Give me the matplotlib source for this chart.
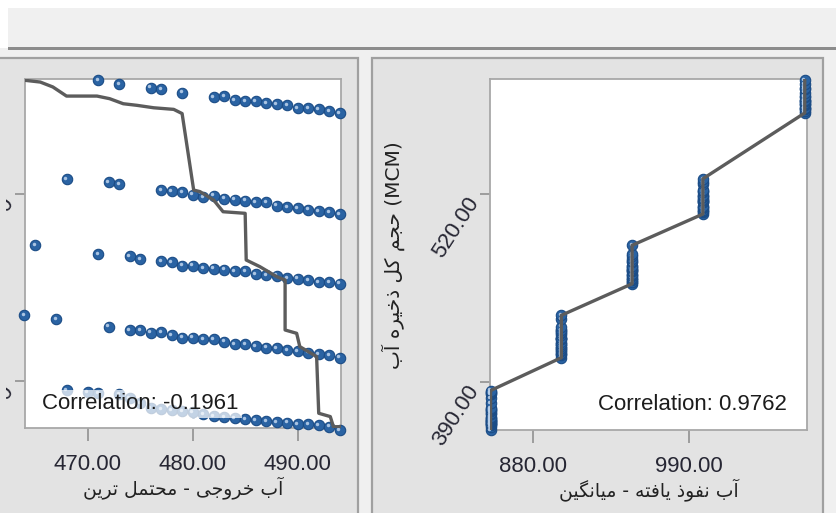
import re
import numpy as np
import matplotlib
matplotlib.use("Agg")
import matplotlib.pyplot as plt
from matplotlib.patches import Rectangle
from matplotlib.transforms import ScaledTranslation

# ---------------- data ----------------
# infiltration (mean) value for each scenario group
infiltration = [1072, 1000, 950, 900, 850]

# outflow (most likely) per group
outflow_g1 = [471, 473, 476, 477, 479, 482, 483, 484, 485, 486, 487, 488, 489, 490, 491, 492, 493, 494]
outflow_g2 = [468, 472, 473, 477, 478, 479, 480, 481, 482, 483, 484, 485, 486, 487, 488, 489, 490, 491, 492, 493, 494]
outflow_g3 = [465, 471, 474, 475, 477, 478, 479, 480, 481, 482, 483, 484, 485, 486, 487, 488, 489, 490, 491, 492, 493, 494]
outflow_g4 = [464, 467, 472, 474, 475, 476, 477, 478, 479, 480, 481, 482, 483, 484, 485, 486, 487, 488, 489, 490, 491, 492, 493, 494]
outflow_g5 = [468, 470, 471, 473, 474, 475, 476, 477, 478, 479, 480, 481, 482, 483, 484, 485, 486, 487, 488, 489, 490, 491, 492, 493, 494]

# total water storage (MCM) per group
storage_g1 = [598.3, 595.9, 593.2, 592.1, 589.7, 586.7, 587.2, 584.5, 583.8, 583.8, 582.6, 581.7, 581.0, 579.3, 579.1, 578.2, 577.1, 575.7]
storage_g2 = [530.2, 527.8, 526.6, 522.6, 521.5, 521.1, 519.2, 517.4, 518.5, 516.4, 515.7, 515.0, 514.1, 513.9, 511.6, 510.5, 510.0, 508.8, 507.7, 507.2, 505.8]
storage_g3 = [484.2, 478.2, 476.6, 474.7, 473.1, 472.4, 470.1, 470.1, 468.5, 468.0, 467.3, 466.2, 466.2, 464.3, 463.4, 463.2, 461.6, 461.1, 460.0, 458.6, 458.6, 457.6]
storage_g4 = [435.8, 433.0, 427.9, 425.4, 425.4, 423.7, 424.2, 422.2, 420.3, 420.3, 419.2, 419.2, 417.5, 415.7, 415.7, 414.6, 413.4, 413.0, 411.6, 411.1, 409.9, 408.8, 408.1, 406.5]
storage_g5 = [383.8, 382.7, 382.0, 381.3, 378.6, 375.2, 371.7, 371.0, 370.3, 369.3, 368.6, 367.5, 365.8, 365.1, 364.4, 363.7, 363.0, 362.7, 362.0, 361.5, 360.6, 360.4, 359.9, 358.7, 356.5]

# gray reference line on the outflow panel
left_line_x = [464.05, 465.5, 466.7, 468.0, 470.9, 472.1, 473.4, 474.7, 476.3, 478.2, 479.0, 480.1, 480.7, 482.0,
               482.9, 485.0, 485.1, 486.4, 488.0, 488.8, 488.8, 489.9, 490.2, 491.8, 492.0, 493.1, 493.4, 494.2]
left_line_y = [598.3, 597.1, 593.7, 587.4, 587.4, 585.6, 582.1, 581.0, 579.3, 578.2, 575.3, 522.4, 521.3, 515.5,
               507.4, 506.3, 474.0, 469.4, 462.5, 460.2, 425.6, 423.3, 414.1, 407.2, 368.0, 365.7, 358.7, 358.7]

x_ticks_left = [470, 480, 490]
x_ticks_right = [880, 990]
y_ticks = [390, 520]

corr_left = "Correlation: -0.1961"
corr_right = "Correlation: 0.9762"
xlabel_left = "آب خروجی - محتمل ترین"
xlabel_right = "آب نفوذ یافته - میانگین"
ylabel_right = "حجم کل ذخیره آب (MCM)"

outflows = [outflow_g1, outflow_g2, outflow_g3, outflow_g4, outflow_g5]
storages = [storage_g1, storage_g2, storage_g3, storage_g4, storage_g5]

# ---------------- simple Persian shaping (presentation forms + RTL order) ----------------
FORMS = {
    '\u0622': ('\uFE81', '\uFE82'),
    '\u0627': ('\uFE8D', '\uFE8E'),
    '\u0628': ('\uFE8F', '\uFE90', '\uFE91', '\uFE92'),
    '\u062A': ('\uFE95', '\uFE96', '\uFE97', '\uFE98'),
    '\u062C': ('\uFE9D', '\uFE9E', '\uFE9F', '\uFEA0'),
    '\u062D': ('\uFEA1', '\uFEA2', '\uFEA3', '\uFEA4'),
    '\u062E': ('\uFEA5', '\uFEA6', '\uFEA7', '\uFEA8'),
    '\u0630': ('\uFEAB', '\uFEAC'),
    '\u0631': ('\uFEAD', '\uFEAE'),
    '\u0641': ('\uFED1', '\uFED2', '\uFED3', '\uFED4'),
    '\u0644': ('\uFEDD', '\uFEDE', '\uFEDF', '\uFEE0'),
    '\u0645': ('\uFEE1', '\uFEE2', '\uFEE3', '\uFEE4'),
    '\u0646': ('\uFEE5', '\uFEE6', '\uFEE7', '\uFEE8'),
    '\u0647': ('\uFEE9', '\uFEEA', '\uFEEB', '\uFEEC'),
    '\u0648': ('\uFEED', '\uFEEE'),
    '\u06A9': ('\uFB8E', '\uFB8F', '\uFB90', '\uFB91'),
    '\u06AF': ('\uFB92', '\uFB93', '\uFB94', '\uFB95'),
    '\u06CC': ('\uFBFC', '\uFBFD', '\uFBFE', '\uFBFF'),
}


def shape(s):
    out = []
    for i, c in enumerate(s):
        if c not in FORMS:
            out.append(c)
            continue
        f = FORMS[c]
        prev = s[i - 1] if i > 0 else ''
        nxt = s[i + 1] if i + 1 < len(s) else ''
        jp = prev in FORMS and len(FORMS[prev]) == 4
        jn = len(f) == 4 and nxt in FORMS
        if jp and jn:
            out.append(f[3])
        elif jp:
            out.append(f[1])
        elif jn:
            out.append(f[2])
        else:
            out.append(f[0])
    return ''.join(out)


def visual(s):
    m = re.match(r'^(.*?)(\s*\([^)]*\))?$', s)
    ar, lat = m.group(1), m.group(2) or ''
    return shape(ar)[::-1] + lat


# ---------------- figure & chrome ----------------
W, H = 837, 513
fig = plt.figure(figsize=(W / 100, H / 100), dpi=100, facecolor='#f0f0f0')


def px_rect(x0, y0, x1, y1, z=-5, **kw):
    r = Rectangle((x0 / W, 1 - y1 / H), (x1 - x0) / W, (y1 - y0) / H,
                  transform=fig.transFigure, zorder=z, **kw)
    fig.add_artist(r)


px_rect(0, 0, W, 8, fc='white', ec='none')
px_rect(0, 0, 8, 48, fc='white', ec='none')
px_rect(8, 47, W, 50, fc='#8c8c8c', ec='none')
px_rect(-3, 58, 358, 520, fc='#e3e3e3', ec='#a0a0a0', lw=1.6)
px_rect(372, 58, 823, 520, fc='#e3e3e3', ec='#a0a0a0', lw=1.6)
# left panel is scrolled: its own left edge hides part of the y tick labels
px_rect(-1, 60, 6, 520, z=10, fc='#e3e3e3', ec='none')

TICK_FONT = dict(family=['Liberation Sans', 'DejaVu Sans'], size=16, color='#262633')
XL_FONT = dict(family=['DejaVu Sans'], size=13.5, color='#222222')
YL_FONT = dict(family=['DejaVu Sans'], size=14.5, color='#222222')

axL = fig.add_axes([25 / W, 1 - 428.3 / H, 316 / W, 349 / H])
axR = fig.add_axes([490 / W, 1 - 430 / H, 317 / W, 350.7 / H])

MFC, MEC = '#2a63a3', '#1b4c86'


def style(ax):
    ax.set_facecolor('white')
    for sp in ax.spines.values():
        sp.set_color('#a8a8a8')
        sp.set_linewidth(1.3)
    ax.tick_params(axis='x', direction='out', length=9.5, width=1.1, color='#8a8a8a', pad=9)
    ax.tick_params(axis='y', direction='out', length=7, width=1.1, color='#8a8a8a', pad=10.5)
    ax.set_yticks(y_ticks)
    ax.set_yticklabels([f"{v:.2f}" for v in y_ticks], rotation=57, ha='right', va='top',
                       rotation_mode='anchor', **TICK_FONT)


def markers(ax, xs, ys):
    ax.plot(xs, ys, 'o', ms=7.5, mfc=MFC, mec=MEC, mew=0.8, clip_on=False, zorder=3, ls='none')
    hl = ax.transData + ScaledTranslation(-0.9 / 72, 0.9 / 72, fig.dpi_scale_trans)
    ax.plot(xs, ys, 'o', ms=2.5, mfc='#b9d0ea', mec='none', clip_on=False, zorder=3.1,
            ls='none', transform=hl, alpha=0.9)


# ---------- left panel ----------
style(axL)
for xs, ys in zip(outflows, storages):
    markers(axL, xs, ys)
axL.plot(left_line_x, left_line_y, color='#5c5c5c', lw=2.4, zorder=4, solid_joinstyle='round')
axL.set_xlim(464.05, 494.12)
axL.set_ylim(357.6, 599.0)
axL.set_xticks(x_ticks_left)
axL.set_xticklabels([f"{v:.2f}" for v in x_ticks_left], **TICK_FONT)
axL.annotate(corr_left, xy=(0, 0), xycoords='axes fraction', xytext=(17, 19),
             textcoords='offset pixels', ha='left', va='baseline',
             fontfamily='Liberation Sans', fontsize=16, color='#1c1c1c', zorder=6,
             bbox=dict(boxstyle='square,pad=0.15', fc='white', ec='none', alpha=0.72))
axL.set_xlabel(visual(xlabel_left), labelpad=1, **XL_FONT)

# ---------- right panel ----------
style(axR)
rx, ry = [], []
for inf, ys in zip(infiltration, storages):
    rx += [inf] * len(ys)
    ry += list(ys)
order = np.lexsort((np.array(ry), np.array(rx)))
rx_s = np.array(rx)[order]
ry_s = np.array(ry)[order]
markers(axR, rx_s, ry_s)
axR.plot(rx_s, ry_s, color='#5c5c5c', lw=2.4, zorder=4, solid_joinstyle='round')
axR.set_xlim(849.6, 1073.6)
axR.set_ylim(356.5, 599.0)
axR.set_xticks(x_ticks_right)
axR.set_xticklabels([f"{v:.2f}" for v in x_ticks_right], **TICK_FONT)
axR.annotate(corr_right, xy=(1, 0), xycoords='axes fraction', xytext=(-20, 20),
             textcoords='offset pixels', ha='right', va='baseline',
             fontfamily='Liberation Sans', fontsize=16, color='#1c1c1c', zorder=6,
             bbox=dict(boxstyle='square,pad=0.15', fc='white', ec='none', alpha=0.72))
axR.set_xlabel(visual(xlabel_right), labelpad=1, **XL_FONT)
axR.set_ylabel(visual(ylabel_right), **YL_FONT)
axR.yaxis.set_label_coords(-0.268, 0.5)

fig.savefig('out.png', dpi=100, facecolor=fig.get_facecolor())
